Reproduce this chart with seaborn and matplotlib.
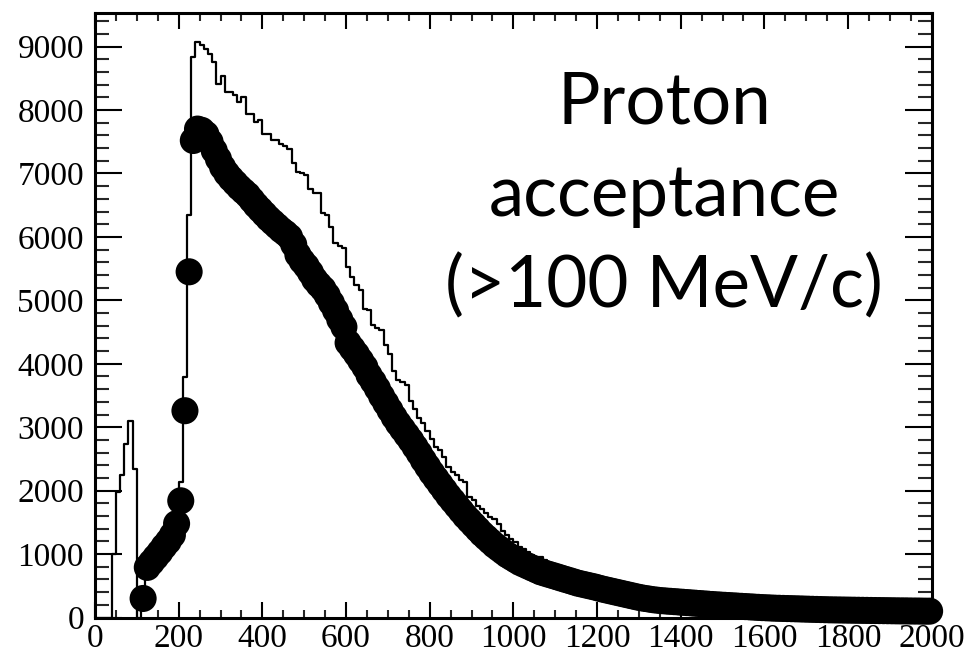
import numpy as np
import pandas as pd
import matplotlib
matplotlib.use("Agg")
import matplotlib.pyplot as plt
import seaborn as sns
from matplotlib.ticker import MultipleLocator

# ---------------- data ----------------
# all protons, 10 MeV/c bins from 0 to 2000 (counts per bin)
all_counts = [
    0, 0, 0, 0, 1000, 1975, 2240, 2740, 3100, 2340,            # 0-100
    0, 400, 880, 960, 1040, 1130, 1220, 1310, 1420, 1580,      # 100-200
    2140, 3790, 6340, 8830, 9070, 9020, 8960, 8880, 8750, 8410,  # 200-300
    8530, 8280, 8280, 8230, 8120, 8200, 7940, 7940, 7810, 7850,  # 300-400
    7630, 7630, 7530, 7530, 7470, 7430, 7390, 7160, 7030, 7000,  # 400-500
    6970, 6760, 6690, 6690, 6370, 6340, 6160, 5900, 5850, 5820,  # 500-600
    5530, 5370, 5240, 5160, 4870, 4850, 4610, 4560, 4540, 4300,  # 600-700
    4160, 3890, 3740, 3720, 3660, 3420, 3280, 3140, 3060, 2940,  # 700-800
    2820, 2690, 2640, 2530, 2370, 2300, 2240, 2160, 2130, 1900,  # 800-900
    1860, 1760, 1710, 1650, 1580, 1560, 1480, 1370, 1300, 1245,  # 900-1000
    1190, 1110, 1080, 1040, 980, 960, 950, 900, 850, 810,        # 1000-1100
    770, 740, 700, 670, 640, 610, 590, 570, 550, 530,            # 1100-1200
    510, 490, 470, 455, 440, 425, 410, 395, 380, 365,            # 1200-1300
    350, 340, 330, 320, 310, 300, 292, 285, 278, 270,            # 1300-1400
    263, 256, 250, 244, 238, 232, 226, 220, 215, 210,            # 1400-1500
    205, 200, 196, 192, 188, 184, 180, 176, 172, 168,            # 1500-1600
    165, 162, 159, 156, 153, 150, 148, 146, 144, 142,            # 1600-1700
    140, 138, 136, 134, 132, 130, 128, 127, 126, 125,            # 1700-1800
    124, 123, 122, 121, 120, 119, 118, 117, 116, 115,            # 1800-1900
    114, 113, 112, 111, 110, 110, 109, 108, 108, 107,            # 1900-2000
]

# accepted protons (>100 MeV/c), markers at bin centres 115 ... 1995
accepted_counts = [
    300, 790, 870, 950, 1030, 1120, 1200, 1300, 1480,            # 115-195
    1840, 3260, 5450, 7520, 7700, 7680, 7620, 7500, 7360, 7230,  # 205-295
    7100, 7000, 6920, 6850, 6780, 6720, 6660, 6580, 6500, 6430,  # 305-395
    6360, 6290, 6230, 6170, 6110, 6060, 6000, 5880, 5720, 5620,  # 405-495
    5540, 5440, 5330, 5250, 5180, 5080, 4960, 4840, 4700, 4580,  # 505-595
    4330, 4240, 4150, 4050, 3950, 3820, 3720, 3610, 3490, 3380,  # 605-695
    3270, 3160, 3060, 2970, 2880, 2790, 2690, 2590, 2480, 2380,  # 705-795
    2280, 2190, 2100, 2010, 1920, 1840, 1760, 1680, 1600, 1530,  # 805-895
    1460, 1390, 1320, 1260, 1200, 1140, 1090, 1040, 990, 950,    # 905-995
    910, 870, 840, 810, 780, 750, 720, 700, 680, 660,            # 1005-1095
    640, 620, 600, 580, 560, 540, 525, 510, 495, 480,            # 1105-1195
    462, 445, 430, 415, 400, 385, 370, 355, 340, 325,            # 1205-1295
    312, 300, 290, 280, 272, 265, 260, 255, 250, 245,            # 1305-1395
    240, 235, 230, 225, 220, 215, 210, 205, 200, 196,            # 1405-1495
    192, 188, 184, 180, 176, 172, 168, 164, 160, 156,            # 1505-1595
    153, 150, 147, 145, 143, 141, 139, 137, 135, 133,            # 1605-1695
    131, 129, 127, 125, 123, 121, 120, 119, 118, 117,            # 1705-1795
    116, 115, 114, 113, 112, 111, 110, 109, 108, 107,            # 1805-1895
    106, 105, 104, 104, 103, 102, 102, 101, 100, 100,            # 1905-1995
]

x_ticks = [0, 200, 400, 600, 800, 1000, 1200, 1400, 1600, 1800, 2000]
y_ticks = [0, 1000, 2000, 3000, 4000, 5000, 6000, 7000, 8000, 9000]
label_lines = ["Proton", "acceptance", "(>100 MeV/c)"]

# ---------------- binning ----------------
bin_width = 10
n_bins = len(all_counts)
centers = np.arange(n_bins) * bin_width + bin_width / 2
n_acc = len(accepted_counts)
acc_centers = centers[n_bins - n_acc:]

df_all = pd.DataFrame({"p": centers, "w": all_counts})
df_acc = pd.DataFrame({"p": acc_centers, "n": accepted_counts})

# ---------------- figure ----------------
sns.set_theme(style="ticks")
plt.rcParams["font.family"] = ["Liberation Serif", "DejaVu Serif"]

W, H = 971, 656
fig = plt.figure(figsize=(W / 100, H / 100), dpi=100)
ax = fig.add_axes([95 / W, 1 - 617.5 / H, (931.7 - 95) / W, (617.5 - 13) / H])

sns.histplot(data=df_all, x="p", weights="w", binwidth=bin_width,
             binrange=(0, n_bins * bin_width), element="step",
             fill=False, color="black", linewidth=1.6, ax=ax)
sns.scatterplot(data=df_acc, x="p", y="n", s=380, color="black",
                edgecolor="none", linewidth=0, ax=ax, clip_on=False, zorder=3)

ax.set_xlim(0, 2000)
ax.set_ylim(0, 9530)
ax.set_xlabel("")
ax.set_ylabel("")
ax.set_xticks(x_ticks)
ax.set_yticks(y_ticks)
ax.set_xticklabels([str(t) for t in x_ticks])
ax.set_yticklabels([str(t) for t in y_ticks])
ax.xaxis.set_minor_locator(MultipleLocator(50))
ax.yaxis.set_minor_locator(MultipleLocator(200))

ax.tick_params(axis="x", which="major", direction="in", length=11.5, width=1.5,
               top=True, bottom=True, labelsize=24, pad=4, colors="black")
ax.tick_params(axis="x", which="minor", direction="in", length=5.5, width=1.5,
               top=True, bottom=True)
ax.tick_params(axis="y", which="major", direction="in", length=19.5, width=1.5,
               left=True, right=True, labelsize=24, pad=8, colors="black")
ax.tick_params(axis="y", which="minor", direction="in", length=10, width=1.5,
               left=True, right=True)
for sp in ax.spines.values():
    sp.set_visible(True)
    sp.set_linewidth(2.2)
    sp.set_color("black")

baselines = [124, 216, 307]
for txt, yb in zip(label_lines, baselines):
    fig.text(664 / W, 1 - yb / H, txt, ha="center", va="baseline",
             fontsize=51, family=["Lato", "DejaVu Sans"], color="black")

fig.savefig("out.png", dpi=100)
